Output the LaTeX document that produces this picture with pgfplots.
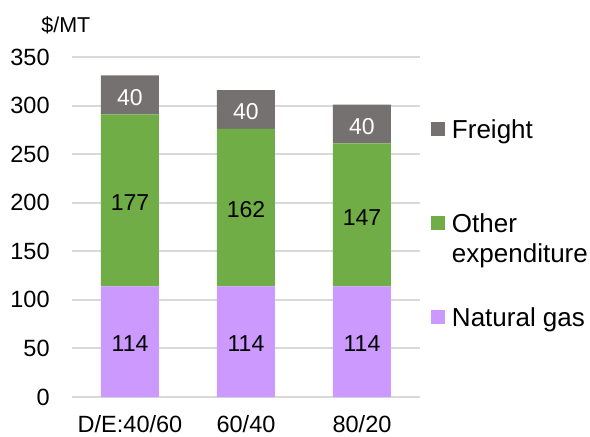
\documentclass[border=0pt]{standalone}
\usepackage{fontspec}
\setmainfont{Liberation Sans}
\usepackage{pgfplots}
\pgfplotsset{compat=1.18}
\definecolor{freight}{HTML}{767171}
\definecolor{otherexp}{HTML}{70AD47}
\definecolor{natgas}{HTML}{CC99FF}
\definecolor{gridgray}{HTML}{D9D9D9}
\pgfplotsset{sq legend/.style={legend image code/.code={\fill[##1] (0pt,1.15pt) rectangle (7pt,8.15pt);}}}

\begin{document}
\begin{tikzpicture}[font=\fontsize{11.75}{15}\selectfont]
\useasboundingbox (-36pt,-19.5pt) rectangle (259pt,198.5pt);
\begin{axis}[
  at={(0pt,0pt)}, anchor=south west,
  scale only axis, width=174pt, height=170pt,
  clip=false,
  ybar stacked, bar width=29pt,
  xmin=-0.5, xmax=2.5, ymin=0, ymax=350,
  xtick=data, xticklabels={D/E:40/60, 60/40, 80/20},
  ytick={0,50,...,350},
  ymajorgrids, grid style={gridgray, line width=1pt},
  axis line style={draw=none},
  major tick length=0pt, tick style={draw=none},
  /pgf/number format/assume math mode=true,
  yticklabel style={anchor=east, inner sep=0pt, xshift=-11pt},
  xticklabel style={anchor=base, inner sep=0pt, yshift=-17.5pt},
  nodes near coords={\pgfmathprintnumber{\rawy}},
  visualization depends on=rawy \as \rawy,
  every node near coord/.append style={anchor=center, inner sep=0pt,
    yshift=-1.2pt, font=\fontsize{11.5}{14}\selectfont},
  legend style={at={(1,1)}, anchor=north west, xshift=5.5pt, yshift=-31.35pt,
    draw=none, fill=none, inner sep=0pt, outer sep=0pt,
    font=\fontsize{13}{15}\selectfont,
    row sep=35.2pt, column sep=3.5pt, cells={anchor=base west},
    nodes={inner sep=0pt, text height=9.3pt, text depth=2.5pt}},
  reverse legend,
]
\addplot[fill=natgas, draw=none, sq legend] coordinates {(0,114) (1,114) (2,114)};
\addlegendentry{Natural gas}
\addplot[fill=otherexp, draw=none, sq legend] coordinates {(0,177) (1,162) (2,147)};
\addlegendentry{\begin{tabular}[t]{@{}l@{}}Other\\expenditure\end{tabular}}
\addplot[fill=freight, draw=none, sq legend,
  every node near coord/.append style={text=white}] coordinates {(0,40) (1,40) (2,40)};
\addlegendentry{Freight}
\node[anchor=base west, inner sep=0pt, xshift=-15.5pt, yshift=12.5pt,
  font=\fontsize{10.75}{13}\selectfont] at (rel axis cs:0,1) {\$/MT};
\end{axis}
\end{tikzpicture}
\end{document}
